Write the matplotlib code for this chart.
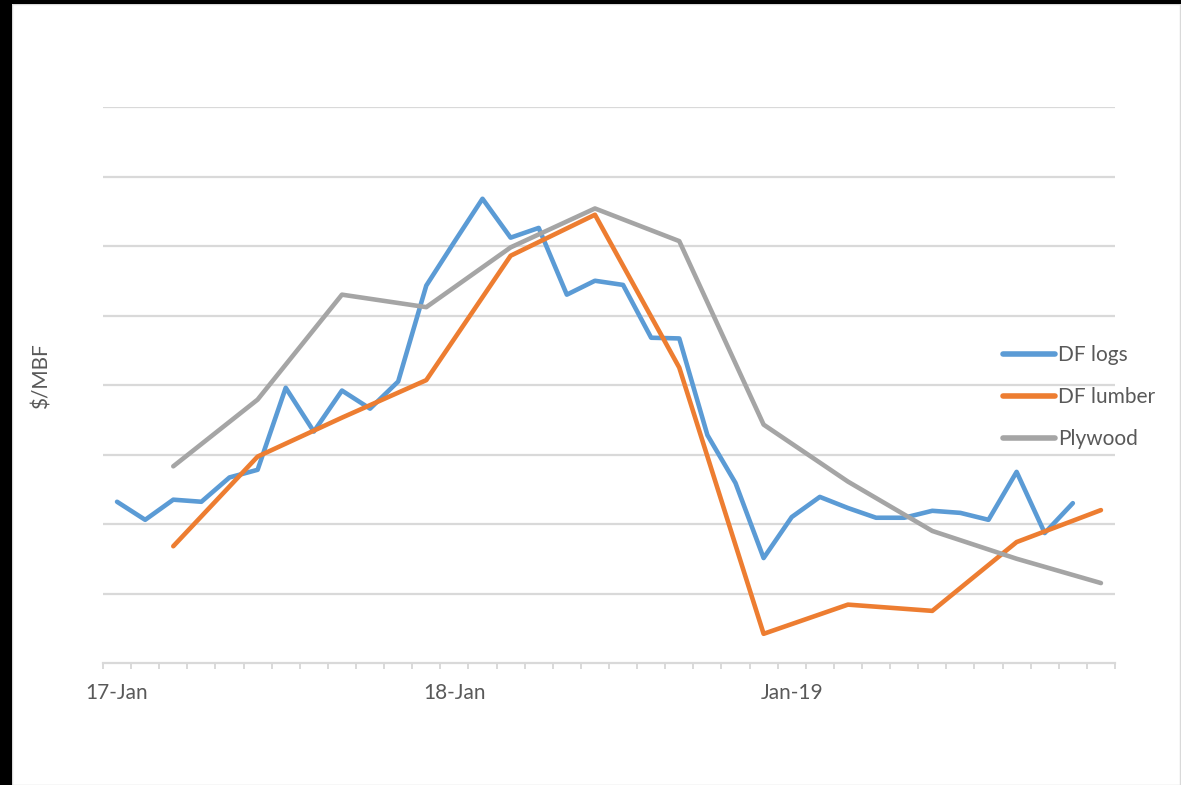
import matplotlib
matplotlib.use("Agg")
import matplotlib.pyplot as plt
from matplotlib.patches import Rectangle
import numpy as np

# Monthly categories Jan 2017 .. Dec 2019
months = [f"{y}-{m:02d}" for y in (2017, 2018, 2019) for m in range(1, 13)]
tick_label_pos = [0, 12, 24]
tick_labels = ["17-Jan", "18-Jan", "Jan-19"]

# DF logs: monthly (Jan 2017 .. Nov 2019)
df_logs = [232, 206, 235, 232, 267, 278, 396, 333, 392, 366, 405, 543,
           606, 668, 612, 626, 530, 550, 544, 468, 467, 328, 259, 151,
           210, 239, 223, 209, 209, 219, 216, 206, 275, 187, 230]

# Quarterly series (Mar, Jun, Sep, Dec)
quarter_idx = [2, 5, 8, 11, 14, 17, 20, 23, 26, 29, 32, 35]
df_lumber = [168, 297, 353, 407, 586, 645, 425, 42, 84, 75, 174, 220]
plywood = [283, 379, 530, 512, 598, 654, 607, 343, 261, 190, 150, 115]

W, H = 1181, 785
fig = plt.figure(figsize=(W / 100, H / 100), dpi=100)
fig.patch.set_facecolor("white")

# frame decorations
fig.patches.append(Rectangle((12 / W, 0), (W - 13) / W, (H - 4) / H, transform=fig.transFigure,
                             fill=False, edgecolor="#d9d9d9", lw=1.0, zorder=0))
fig.patches.append(Rectangle((0, 0), 12 / W, 1, transform=fig.transFigure,
                             facecolor="black", edgecolor="none", zorder=1))
fig.patches.append(Rectangle((0, 1 - 4 / H), 1, 4 / H, transform=fig.transFigure,
                             facecolor="black", edgecolor="none", zorder=1))

ax = fig.add_axes([103 / W, 1 - 663 / H, (1115 - 103) / W, (663 - 107) / H])
ax.set_facecolor("none")

grid_c = "#d9d9d9"
text_c = "#595959"
font = "Lato"
fs = 15

ax.set_xlim(-0.5, len(months) - 0.5)
ax.set_ylim(0, 800)
ax.set_yticks(np.arange(100, 801, 100))
ax.yaxis.grid(True, color=grid_c, lw=1.6)
ax.tick_params(axis="y", left=False, labelleft=False)
for s in ("top", "right", "left"):
    ax.spines[s].set_visible(False)
ax.spines["bottom"].set_color(grid_c)
ax.spines["bottom"].set_linewidth(1.6)

ax.set_xticks(np.arange(-0.5, len(months), 1.0))
ax.set_xticklabels([])
ax.tick_params(axis="x", which="major", direction="out", length=4.5, width=1.4, color=grid_c)
ax.set_xticks(tick_label_pos, minor=True)
ax.set_xticklabels(tick_labels, minor=True, fontfamily=font, fontsize=fs, color=text_c)
ax.tick_params(axis="x", which="minor", length=0, pad=14.5)

lw = 3.3
x_logs = np.arange(len(df_logs))
ax.plot(x_logs, df_logs, color="#5B9BD5", lw=lw, solid_capstyle="round",
        solid_joinstyle="round", label="DF logs", zorder=3)
ax.plot(quarter_idx, df_lumber, color="#ED7D31", lw=lw, solid_capstyle="round",
        solid_joinstyle="round", label="DF lumber", zorder=3)
ax.plot(quarter_idx, plywood, color="#A5A5A5", lw=lw, solid_capstyle="round",
        solid_joinstyle="round", label="Plywood", zorder=3)

fig.text(42 / W, 1 - 376 / H, "$/MBF", rotation=90, ha="center", va="center",
         fontfamily=font, fontsize=fs, color=text_c)

leg = fig.legend(loc="center left", bbox_to_anchor=(1003 / W, 1 - 397 / H),
                 bbox_transform=fig.transFigure, frameon=False, borderpad=0,
                 borderaxespad=0, handlelength=2.5, handletextpad=0.15,
                 labelspacing=1.05, prop={"family": font, "size": fs})
for t in leg.get_texts():
    t.set_color(text_c)
for l in leg.get_lines():
    l.set_linewidth(4)
    l.set_solid_capstyle("round")

fig.savefig("out.png", dpi=100, facecolor="white")
